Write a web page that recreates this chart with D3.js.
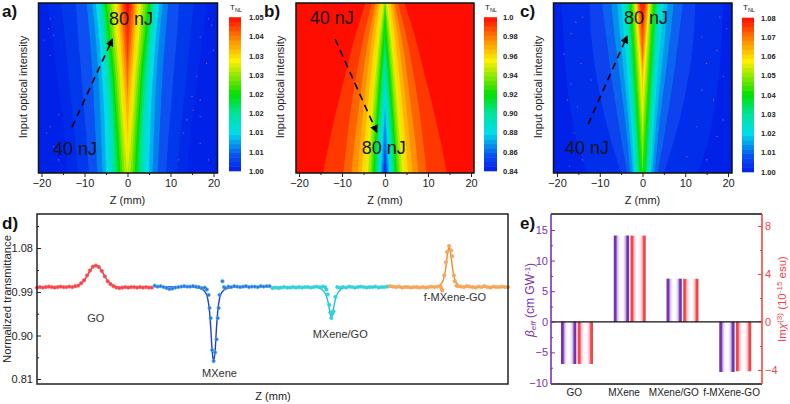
<!DOCTYPE html>
<html>
<head>
<meta charset="utf-8">
<style>
  html, body { margin: 0; background: #fff; }
  svg { display: block; }
  text { font-family: "Liberation Sans", Arial, sans-serif; }
</style>
<script src="https://cdn.jsdelivr.net/npm/d3@7"></script>
</head>
<body>
<svg id="chart" width="790" height="404"></svg>
<script>
// contour rows: input energy in nJ
const energies = [40, 48, 56, 64, 72, 80];
const zTicks = [-20, -10, 0, 10, 20];
const zMinor = [-15, -5, 5, 15];

// contour levels (fraction of the colour bar) and half width in mm at each energy
const levelsA = [0.02, 0.05, 0.10, 0.15, 0.20, 0.25, 0.30, 0.35, 0.40, 0.45, 0.50, 0.55, 0.60, 0.65, 0.70, 0.75, 0.80, 0.85, 0.90, 0.95, 1.00];
const widthsA = [
  [14, 14.5, 15.5, 16.5, 17.5, 18.5],
  [11.5, 12.2, 13, 13.8, 14.6, 15.5],
  [9, 9.5, 10.2, 10.8, 11.5, 12],
  [7, 7.4, 7.8, 8.2, 8.8, 9.5],
  [5.8, 6.1, 6.4, 6.8, 7.4, 8.2],
  [5, 5.2, 5.5, 6, 6.6, 7.4],
  [4.2, 4.4, 4.8, 5.3, 6, 6.8],
  [3.6, 3.8, 4.2, 4.8, 5.6, 6.3],
  [3.1, 3.3, 3.8, 4.4, 5.2, 5.9],
  [2.6, 2.9, 3.4, 4, 4.8, 5.6],
  [2.1, 2.5, 3, 3.6, 4.4, 5.3],
  [1.7, 2.1, 2.7, 3.2, 4, 4.8],
  [1.2, 1.7, 2.2, 2.8, 3.6, 4.2],
  [0.7, 1.3, 1.8, 2.4, 3.1, 3.7],
  [0, 0.8, 1.4, 1.9, 2.7, 3.2],
  [0, 0.2, 1, 1.5, 2.2, 2.6],
  [0, 0, 0.4, 1.1, 1.7, 2.2],
  [0, 0, 0, 0.6, 1.3, 1.8],
  [0, 0, 0, 0.2, 0.9, 1.5],
  [0, 0, 0, 0, 0.4, 1.1],
  [0, 0, 0, 0, 0, 0.5]
];

const levelsB = [0.95, 0.90, 0.85, 0.80, 0.75, 0.70, 0.65, 0.60, 0.55, 0.50, 0.45, 0.40, 0.35, 0.30, 0.25, 0.20, 0.15, 0.10, 0.05];
const widthsB = [
  [4.5, 7, 9, 11, 12.8, 14.4],
  [3, 5, 6.5, 7.8, 8.8, 9.7],
  [2.2, 3.8, 5, 6, 7, 7.8],
  [1.7, 3, 4, 4.9, 5.7, 6.4],
  [1.2, 2.3, 3.2, 4, 4.7, 5.4],
  [0.7, 1.7, 2.5, 3.3, 4, 4.6],
  [0.3, 1.3, 2.1, 2.8, 3.4, 4],
  [0, 1, 1.7, 2.4, 3, 3.5],
  [0, 0.7, 1.4, 2, 2.6, 3.1],
  [0, 0.4, 1.1, 1.7, 2.3, 2.7],
  [0, 0.1, 0.8, 1.4, 2, 2.4],
  [0, 0, 0.5, 1.1, 1.7, 2.1],
  [0, 0, 0.2, 0.8, 1.4, 1.8],
  [0, 0, 0, 0.5, 1.1, 1.5],
  [0, 0, 0, 0.2, 0.8, 1.3],
  [0, 0, 0, 0, 0.5, 1],
  [0, 0, 0, 0, 0.2, 0.75],
  [0, 0, 0, 0, 0, 0.5],
  [0, 0, 0, 0, 0, 0.3]
];

const levelsC = [0.03, 0.07, 0.12, 0.17, 0.22, 0.27, 0.32, 0.37, 0.42, 0.47, 0.52, 0.57, 0.62, 0.67, 0.72, 0.77, 0.82, 0.87, 0.92, 0.97];
const widthsC = [
  [13, 15.5, 17, 18, 18.5, 19],
  [5, 7.5, 9.5, 11, 12, 12.4],
  [3.6, 5, 6.3, 7.5, 8.5, 9.5],
  [2.9, 3.6, 4.5, 5.5, 6.5, 7.3],
  [2.3, 2.9, 3.6, 4.4, 5.2, 5.9],
  [1.9, 2.4, 3, 3.6, 4.3, 5],
  [1.6, 2, 2.6, 3.1, 3.7, 4.3],
  [1.3, 1.7, 2.2, 2.7, 3.2, 3.8],
  [1, 1.4, 1.9, 2.4, 2.9, 3.4],
  [0.7, 1.1, 1.6, 2.1, 2.6, 3.1],
  [0.3, 0.8, 1.3, 1.8, 2.3, 2.8],
  [0, 0.5, 1, 1.5, 2, 2.5],
  [0, 0.2, 0.7, 1.2, 1.7, 2.2],
  [0, 0, 0.4, 0.9, 1.4, 1.95],
  [0, 0, 0.1, 0.6, 1.1, 1.7],
  [0, 0, 0, 0.3, 0.9, 1.5],
  [0, 0, 0, 0.05, 0.7, 1.3],
  [0, 0, 0, 0, 0.5, 1.1],
  [0, 0, 0, 0, 0.2, 0.9],
  [0, 0, 0, 0, 0, 0.6]
];

// stray pixels in the blue part of the maps, [z, energy]
const specksA = [[-18, 76.3], [-18.4, 74], [-17.2, 72.4], [-19.5, 71.3], [-18, 67.7], [-16, 53.7], [-18, 50.9], [-18.8, 49.4], [-17.2, 46.3], [-16, 43.1], [18.8, 76.3], [19.6, 74.8], [16.9, 72], [20, 68.9], [18.4, 65.8], [16.1, 62.7], [15, 58], [16.9, 57.2], [15.3, 54.8], [13.8, 52.5], [16.9, 53.3], [13, 49.4], [16.9, 47], [11.9, 43.1], [18.8, 43.1]];
const specksC = [[-15.6, 75.5], [-16.7, 72.8], [-14, 76.7], [-18.3, 68], [-14.4, 65.8], [-16.7, 61], [-12, 61.9], [-17.5, 57.2], [-15.2, 55.6], [-16, 49.4], [-17.1, 41.6], [-14, 43.1], [18.1, 76.7], [19.7, 74], [13.9, 72], [17.4, 68.9], [15, 65.8], [18.9, 62.7], [13.9, 59.5], [16.6, 57.2], [18.9, 52.5], [12.7, 50.9], [17.4, 48.6], [10.4, 43.9], [15, 43.1]];

const barLabelsA = ["1.05", "1.04", "1.03", "1.03", "1.02", "1.02", "1.01", "1.01", "1.00"];
const barLabelsB = ["1.0", "0.98", "0.96", "0.94", "0.92", "0.90", "0.88", "0.86", "0.84"];
const barLabelsC = ["1.08", "1.07", "1.06", "1.05", "1.04", "1.03", "1.02", "1.01", "1.00"];

// panel d, scan position (mm) and normalized transmittance
const zGO = [-20, -19, -18, -17, -16, -15, -14, -13, -12, -11, -10, -9, -8, -7, -6, -5, -4, -3, -2, -1, 0, 1, 2, 3, 4, 5, 6, 7, 8, 9, 10, 11, 12, 13, 14, 15, 16, 17, 18, 19];
const tGO = [0.999, 1.000, 0.999, 1.000, 1.001, 1.000, 0.999, 1.000, 1.001, 1.000, 1.000, 1.001, 1.000, 1.002, 1.003, 1.008, 1.014, 1.024, 1.034, 1.042, 1.044, 1.041, 1.033, 1.022, 1.012, 1.006, 1.002, 0.999, 0.998, 0.999, 1.000, 0.999, 1.000, 1.000, 0.999, 1.000, 0.999, 1.000, 0.999, 0.999];
const zGOFit = [-20, -8, -6, -4, -2, -1, 0, 1, 2, 4, 6, 8, 19];
const tGOFit = [1.000, 1.000, 1.003, 1.013, 1.033, 1.041, 1.043, 1.041, 1.033, 1.013, 1.003, 1.000, 1.000];

const zMX = [-20, -19, -18, -17, -16, -15, -14, -13, -12, -11, -10, -9, -8, -7, -6, -5, -4, -3, -2.3, -1.7, -1.4, -1, -0.5, 0, 0.5, 1, 1.4, 1.7, 2, 3, 3.5, 4, 5, 6, 7, 8, 9, 10, 11, 12, 13, 14, 15, 16, 17, 18, 19];
const tMX = [1.003, 1.001, 1.002, 1.000, 0.998, 0.996, 0.997, 0.999, 1.000, 1.001, 1.002, 1.001, 1.001, 1.002, 1.001, 1.000, 0.998, 0.999, 0.995, 0.984, 0.957, 0.936, 0.870, 0.847, 0.865, 0.892, 0.936, 0.957, 0.984, 1.012, 1.000, 0.998, 1.001, 1.000, 1.002, 1.001, 1.000, 1.001, 1.002, 1.000, 1.001, 1.001, 1.000, 1.002, 1.001, 1.002, 1.002];
const zMXFit = [-20, -8, -5, -3.5, -2.5, -2, -1.5, -1, -0.5, 0, 0.5, 1, 1.5, 2, 2.5, 3.5, 5, 8, 19];
const tMXFit = [1.001, 1.000, 0.998, 0.994, 0.986, 0.976, 0.956, 0.918, 0.868, 0.847, 0.868, 0.918, 0.956, 0.976, 0.986, 0.994, 0.998, 1.000, 1.001];

const zMG = [-20, -19, -18, -17, -16, -15, -14, -13, -12, -11, -10, -9, -8, -7, -6, -5, -4, -3, -2.1, -1.7, -1.25, -0.7, -0.35, 0, 0.35, 0.7, 1.35, 2, 3, 4, 5, 6, 7, 8, 9, 10, 11, 12, 13, 14, 15, 16, 17, 18, 19];
const tMG = [0.998, 0.999, 0.998, 0.999, 1.000, 0.999, 0.999, 1.000, 0.999, 1.000, 0.999, 1.000, 1.000, 0.999, 1.000, 1.001, 1.000, 1.001, 1.000, 0.995, 0.985, 0.963, 0.948, 0.936, 0.945, 0.950, 0.980, 1.000, 0.999, 1.000, 0.999, 1.001, 1.000, 0.999, 1.000, 1.001, 1.000, 0.999, 1.000, 1.000, 1.001, 0.999, 1.000, 1.000, 1.001];
const zMGFit = [-20, -6, -4, -3, -2, -1.25, -0.7, 0, 0.7, 1.25, 2, 3, 4, 6, 19];
const tMGFit = [1.000, 1.000, 0.998, 0.994, 0.986, 0.972, 0.955, 0.937, 0.955, 0.972, 0.986, 0.994, 0.998, 1.000, 1.000];

const zFM = [-20, -19, -18, -17, -16, -15, -14, -13, -12, -11, -10, -9, -8, -7, -6, -5, -4, -3, -2.6, -2.3, -1.7, -1.1, -0.7, 0, 0.7, 1, 1.6, 1.9, 2.5, 3, 4, 5, 6, 7, 8, 9, 10, 11, 12, 13, 14, 15, 16, 17, 18, 19, 20];
const tFM = [1.002, 1.001, 1.000, 1.001, 0.999, 1.000, 1.000, 0.999, 1.000, 1.000, 0.999, 1.000, 0.999, 1.000, 1.001, 1.000, 1.001, 1.002, 0.997, 0.993, 1.024, 1.051, 1.072, 1.084, 1.075, 1.063, 1.024, 1.012, 1.003, 1.002, 1.001, 1.000, 1.002, 1.001, 1.000, 0.999, 1.001, 1.000, 1.002, 1.000, 0.999, 1.001, 1.000, 1.000, 1.001, 1.000, 1.000];
const zFMFit = [-20, -6, -4, -3, -2, -1.5, -1, -0.5, 0, 0.5, 1, 1.5, 2, 3, 4, 6, 20];
const tFMFit = [1.000, 1.000, 1.002, 1.005, 1.014, 1.026, 1.046, 1.070, 1.082, 1.070, 1.046, 1.026, 1.014, 1.005, 1.002, 1.000, 1.000];

const transTicks = [1.08, 0.99, 0.90, 0.81];
const transMinor = [1.125, 1.035, 0.945, 0.855];

// panel e
const samples = ["GO", "MXene", "MXene/GO", "f-MXene-GO"];
const betaEff = [-6.9, 14.1, 7.05, -8.2];
const imChi = [-3.5, 7.2, 3.6, -4.1];
const betaTicks = [15, 10, 5, 0, -5, -10];
const betaMinor = [12.5, 7.5, 2.5, -2.5, -7.5];
const chiTicks = [8, 4, 0, -4];
const chiMinor = [6, 2, -2];

const svg = d3.select("#chart");
const defs = svg.append("defs");

defs.append("filter").attr("id", "soft")
  .append("feGaussianBlur").attr("stdDeviation", 0.35);

// jet colours as in the reference colour bars
const jet = d3.scaleLinear()
  .domain([0, 0.1, 0.25, 0.38, 0.5, 0.62, 0.72, 0.85, 1])
  .range(["#0420e8", "#0850f0", "#00dcea", "#00e49a", "#00e000", "#8ee800", "#fff000", "#ff9000", "#ff0c00"]);

function smallLabel(sel) {
  return sel.attr("fill", "#222").attr("font-size", 11);
}

function frameAxis(g, scale, ticks, minor, orient) {
  const major = orient(scale).tickValues(ticks).tickSize(4).tickPadding(2).tickFormat(d3.format("d"));
  const small = orient(scale).tickValues(minor).tickSize(2).tickFormat("");
  g.append("g").call(small).call(a => a.select(".domain").remove());
  g.append("g").call(major).call(a => a.select(".domain").remove());
  g.selectAll("text").call(smallLabel);
  g.selectAll("line").attr("stroke", "#222");
}

function drawMap(p) {
  const x = d3.scaleLinear().domain([-20, 20]).range(p.zRange);
  const y = d3.scaleLinear().domain([40, 80]).range(p.eRange);
  const left = x.invert(p.box[0]);
  const right = x.invert(p.box[1]);
  const g = svg.append("g");
  const clipId = "clip" + p.name;

  defs.append("clipPath").attr("id", clipId)
    .append("rect")
    .attr("x", p.box[0]).attr("y", p.box[2])
    .attr("width", p.box[1] - p.box[0]).attr("height", p.box[3] - p.box[2]);

  const map = g.append("g").attr("clip-path", `url(#${clipId})`)
    .append("g").attr("filter", "url(#soft)");

  map.append("rect")
    .attr("x", x(left) - 2).attr("y", p.box[2] - 2)
    .attr("width", x(right) - x(left) + 4).attr("height", p.box[3] - p.box[2] + 4)
    .attr("fill", jet(p.background));

  const area = d3.area()
    .y((d, i) => y(energies[i]))
    .x0(d => x(-d))
    .x1(d => x(d))
    .curve(d3.curveMonotoneY);

  map.selectAll("path")
    .data(p.levels.map((level, i) => ({ level, widths: p.widths[i] })))
    .join("path")
      .attr("d", d => area(d.widths))
      .attr("fill", d => jet(d.level));

  g.append("g").selectAll("circle")
    .data(p.specks)
    .join("circle")
      .attr("cx", d => x(d[0]))
      .attr("cy", d => y(d[1]))
      .attr("r", 0.55)
      .attr("fill", "#f0686e");

  g.append("rect")
    .attr("x", p.box[0]).attr("y", p.box[2])
    .attr("width", p.box[1] - p.box[0]).attr("height", p.box[3] - p.box[2])
    .attr("fill", "none").attr("stroke", "#111").attr("stroke-width", 1.5);

  const axis = g.append("g").attr("transform", `translate(0,${p.box[3]})`);
  frameAxis(axis, x, zTicks, zMinor, d3.axisBottom);

  g.append("text").text("Z (mm)")
    .attr("x", x(0)).attr("y", 204)
    .attr("text-anchor", "middle").call(smallLabel);

  g.append("text").text("Input optical intensity")
    .attr("transform", `translate(${p.box[0] - 12},${(p.box[2] + p.box[3]) / 2 - 1}) rotate(-90)`)
    .attr("text-anchor", "middle").call(smallLabel);

  g.append("text").text(p.letter)
    .attr("x", p.letterX).attr("y", 17)
    .attr("font-size", 17).attr("font-weight", "bold").attr("fill", "#111");

  // energy annotations and dashed arrow
  p.notes.forEach(n => {
    g.append("text").text(n.text)
      .attr("x", x(n.z)).attr("y", y(n.e))
      .attr("text-anchor", "middle")
      .attr("font-size", 18).attr("fill", "#151515");
  });
  g.append("line")
    .attr("x1", x(p.arrow[0])).attr("y1", y(p.arrow[1]))
    .attr("x2", x(p.arrow[2])).attr("y2", y(p.arrow[3]))
    .attr("stroke", "#000").attr("stroke-width", 1.6)
    .attr("stroke-dasharray", "7 5")
    .attr("marker-end", "url(#head)");

  // colour bar
  const cells = d3.range(0, 1, 1 / 34);
  const barY = d3.scaleLinear().domain([0, 1]).range([p.bar[3], p.bar[2]]);
  g.append("g").selectAll("rect")
    .data(cells)
    .join("rect")
      .attr("x", p.bar[0])
      .attr("y", d => barY(d + 1 / 34) - 0.3)
      .attr("width", p.bar[1] - p.bar[0])
      .attr("height", (p.bar[3] - p.bar[2]) / 34 + 0.6)
      .attr("fill", d => jet(d + 1 / 68));

  const labelY = d3.scalePoint().domain(d3.range(p.barLabels.length)).range([p.bar[2], p.bar[3]]);
  g.append("g").selectAll("text")
    .data(p.barLabels)
    .join("text")
      .text(d => d)
      .attr("x", p.barLabelX)
      .attr("y", (d, i) => labelY(i) + 2.7)
      .attr("font-size", 7.5).attr("font-weight", "bold").attr("fill", "#222");

  const title = g.append("text")
    .attr("x", p.bar[0] + 1).attr("y", 10)
    .attr("font-size", 8).attr("fill", "#222");
  title.append("tspan").text("T");
  title.append("tspan").text("NL").attr("font-size", 5.5).attr("dy", 2);
}

defs.append("marker").attr("id", "head")
  .attr("viewBox", "0 0 8 8").attr("refX", 7).attr("refY", 4)
  .attr("markerWidth", 5).attr("markerHeight", 5)
  .attr("orient", "auto")
  .append("path").attr("d", "M0,0 L8,4 L0,8 Z").attr("fill", "#000");

drawMap({
  name: "A", letter: "a)", letterX: 2, background: 0,
  zRange: [41.5, 213.5], eRange: [173, 3], box: [38.5, 217.5, 3, 173],
  levels: levelsA, widths: widthsA, specks: specksA,
  bar: [229, 241, 17.5, 171], barLabels: barLabelsA, barLabelX: 249,
  notes: [{ text: "80 nJ", z: 0.8, e: 74.8 }, { text: "40 nJ", z: -12.2, e: 44.2 }],
  arrow: [-12.9, 50.8, -3.5, 71.5]
});
drawMap({
  name: "B", letter: "b)", letterX: 264, background: 1,
  zRange: [299, 471], eRange: [3, 173], box: [296, 474, 3, 173],
  levels: levelsB, widths: widthsB, specks: [],
  bar: [484, 497, 17.5, 171], barLabels: barLabelsB, barLabelX: 503,
  notes: [{ text: "40 nJ", z: -12.4, e: 44.9 }, { text: "80 nJ", z: -0.3, e: 75.5 }],
  arrow: [-11.6, 48.5, -1.9, 70.4]
});
drawMap({
  name: "C", letter: "c)", letterX: 520, background: 0,
  zRange: [557, 728], eRange: [173, 3], box: [553.5, 732, 3, 173],
  levels: levelsC, widths: widthsC, specks: specksC,
  bar: [742, 754, 18, 172], barLabels: barLabelsC, barLabelX: 761,
  notes: [{ text: "80 nJ", z: 0.8, e: 75 }, { text: "40 nJ", z: -13, e: 44.4 }],
  arrow: [-12.7, 51.5, -3.6, 72.2]
});

// panel d
const posX = d3.scaleLinear().domain([0, 160]).range([37, 508]);
const transY = d3.scaleLinear().domain([0.81, 0.99, 1.08]).range([379, 292, 248]);
const panelD = svg.append("g");

const fitLine = d3.line()
  .x(d => posX(d.z))
  .y(d => transY(d.t))
  .curve(d3.curveMonotoneX);

const scans = [
  { center: 20, z: zGO, t: tGO, zFit: zGOFit, tFit: tGOFit, line: "#f03030", fill: "#f4404a", ring: "#f86060" },
  { center: 60, z: zMX, t: tMX, zFit: zMXFit, tFit: tMXFit, line: "#1c3fd8", fill: "#2f70e0", ring: "#4ab0e4" },
  { center: 100, z: zMG, t: tMG, zFit: zMGFit, tFit: tMGFit, line: "#1cc6d0", fill: "#30d4dc", ring: "#40ccd8" },
  { center: 140, z: zFM, t: tFM, zFit: zFMFit, tFit: tFMFit, line: "#f08c30", fill: "#f6aa60", ring: "#f4a050" }
];

scans.forEach(s => {
  const fit = s.zFit.map((z, i) => ({ z: z + s.center, t: s.tFit[i] }));
  const pts = s.z.map((z, i) => ({ z: z + s.center, t: s.t[i] }));
  panelD.append("path")
    .attr("d", fitLine(fit))
    .attr("fill", "none").attr("stroke", s.line).attr("stroke-width", 1.4);
  panelD.append("g").selectAll("circle")
    .data(pts)
    .join("circle")
      .attr("cx", d => posX(d.z))
      .attr("cy", d => transY(d.t))
      .attr("r", 1.7)
      .attr("fill", s.fill)
      .attr("stroke", s.ring).attr("stroke-width", 0.7);
});

panelD.append("rect")
  .attr("x", 37).attr("y", 214)
  .attr("width", 471).attr("height", 170)
  .attr("fill", "none").attr("stroke", "#222").attr("stroke-width", 1.5);

const transAxis = panelD.append("g").attr("transform", "translate(37,0)");
transAxis.append("g")
  .call(d3.axisRight(transY).tickValues(transMinor).tickSize(2).tickFormat(""))
  .call(a => a.select(".domain").remove());
transAxis.append("g")
  .call(d3.axisRight(transY).tickValues(transTicks).tickSize(4).tickFormat(""))
  .call(a => a.select(".domain").remove());
transAxis.selectAll("line").attr("stroke", "#222");

panelD.append("g").selectAll("text")
  .data(transTicks)
  .join("text")
    .text(d3.format(".2f"))
    .attr("x", 33).attr("y", d => transY(d) + 4)
    .attr("text-anchor", "end").call(smallLabel);

panelD.append("text").text("Normalized transmittance")
  .attr("transform", "translate(11,299) rotate(-90)")
  .attr("text-anchor", "middle").call(smallLabel).attr("font-size", 11.3);
panelD.append("text").text("Z (mm)")
  .attr("x", 273).attr("y", 400)
  .attr("text-anchor", "middle").call(smallLabel);
panelD.append("text").text("d)")
  .attr("x", 2).attr("y", 229)
  .attr("font-size", 17).attr("font-weight", "bold").attr("fill", "#111");

const scanNotes = [
  { text: "GO", pos: 20, t: 0.927 },
  { text: "MXene", pos: 62, t: 0.815 },
  { text: "MXene/GO", pos: 103, t: 0.894 },
  { text: "f-MXene-GO", pos: 142, t: 0.971 }
];
panelD.append("g").selectAll("text")
  .data(scanNotes)
  .join("text")
    .text(d => d.text)
    .attr("x", d => posX(d.pos))
    .attr("y", d => transY(d.t))
    .attr("text-anchor", "middle")
    .attr("font-size", 11).attr("fill", "#333");

// panel e
const PURPLE = "#7a32b0";
const RED = "#f2474a";
const betaY = d3.scaleLinear().domain([-10, 15]).range([383, 230]);
const chiY = d3.scaleLinear().domain([-4, 8]).range([370, 226]);
const catX = d3.scaleBand().domain(samples).range([551, 762]).paddingInner(0);
const innerX = d3.scaleBand().domain(["beta", "chi"]).range([10, 42]).paddingInner(0.08);
const panelE = svg.append("g");

function barGradient(id, color, light) {
  const grad = defs.append("linearGradient").attr("id", id);
  const stops = [[0, color], [0.14, color], [0.24, light], [0.36, "#f6f2fb"], [0.5, "#fff"], [0.64, "#f6f2fb"], [0.76, light], [0.86, color], [1, color]];
  grad.selectAll("stop")
    .data(stops)
    .join("stop")
      .attr("offset", d => d[0])
      .attr("stop-color", d => d[1]);
}
barGradient("gradBeta", PURPLE, "#cdbde8");
barGradient("gradChi", RED, "#fbbcbc");

panelE.append("g").selectAll("rect")
  .data(samples)
  .join("rect")
    .attr("x", d => catX(d) + innerX("beta"))
    .attr("width", innerX.bandwidth())
    .attr("y", (d, i) => Math.min(betaY(betaEff[i]), betaY(0)))
    .attr("height", (d, i) => Math.abs(betaY(betaEff[i]) - betaY(0)))
    .attr("fill", "url(#gradBeta)");

panelE.append("g").selectAll("rect")
  .data(samples)
  .join("rect")
    .attr("x", d => catX(d) + innerX("chi"))
    .attr("width", innerX.bandwidth())
    .attr("y", (d, i) => Math.min(chiY(imChi[i]), chiY(0)))
    .attr("height", (d, i) => Math.abs(chiY(imChi[i]) - chiY(0)))
    .attr("fill", "url(#gradChi)");

[214, 384].forEach(yy => {
  panelE.append("line")
    .attr("x1", 551).attr("x2", 762).attr("y1", yy).attr("y2", yy)
    .attr("stroke", "#111").attr("stroke-width", 1.5);
});
panelE.append("line")
  .attr("x1", 551).attr("x2", 762).attr("y1", betaY(0)).attr("y2", betaY(0))
  .attr("stroke", "#111").attr("stroke-width", 1.2);
panelE.append("line")
  .attr("x1", 551).attr("x2", 551).attr("y1", 214).attr("y2", 384)
  .attr("stroke", PURPLE).attr("stroke-width", 1.6);
panelE.append("line")
  .attr("x1", 762).attr("x2", 762).attr("y1", 214).attr("y2", 384)
  .attr("stroke", RED).attr("stroke-width", 1.6);

function sideAxis(at, orient, scale, ticks, minor, color) {
  const g = panelE.append("g").attr("transform", `translate(${at},0)`);
  g.append("g")
    .call(orient(scale).tickValues(minor).tickSize(-2).tickFormat(""))
    .call(a => a.select(".domain").remove());
  g.append("g")
    .call(orient(scale).tickValues(ticks).tickSize(-4).tickPadding(3).tickFormat(d3.format("d")))
    .call(a => a.select(".domain").remove());
  g.selectAll("line").attr("stroke", color);
  g.selectAll("text").attr("fill", color).attr("font-size", 11);
}
sideAxis(551, d3.axisLeft, betaY, betaTicks, betaMinor, PURPLE);
sideAxis(762, d3.axisRight, chiY, chiTicks, chiMinor, RED);

const catLabelShift = [-2, -5, -8, -3];
panelE.append("g").selectAll("text")
  .data(samples)
  .join("text")
    .text(d => d)
    .attr("x", (d, i) => catX(d) + innerX("beta") + innerX.bandwidth() + catLabelShift[i])
    .attr("y", 396)
    .attr("text-anchor", "middle")
    .attr("font-size", 10).attr("fill", "#222");

panelE.append("text").text("e)")
  .attr("x", 520).attr("y", 229)
  .attr("font-size", 17).attr("font-weight", "bold").attr("fill", "#111");

const betaTitle = panelE.append("text")
  .attr("transform", "translate(534,300) rotate(-90)")
  .attr("text-anchor", "middle").attr("font-size", 12).attr("fill", PURPLE);
betaTitle.append("tspan").text("\u03b2").attr("font-style", "italic");
betaTitle.append("tspan").text("eff").attr("font-size", 8).attr("dy", 2).attr("font-style", "italic");
betaTitle.append("tspan").text(" (cm GW").attr("dy", -2);
betaTitle.append("tspan").text("-1").attr("font-size", 8).attr("dy", -4);
betaTitle.append("tspan").text(")").attr("dy", 4);

const chiTitle = panelE.append("text")
  .attr("transform", "translate(786,299) rotate(-90)")
  .attr("text-anchor", "middle").attr("font-size", 11.5).attr("fill", RED);
chiTitle.append("tspan").text("Im");
chiTitle.append("tspan").text("\u03c7").attr("font-style", "italic");
chiTitle.append("tspan").text("(3)").attr("font-size", 8).attr("dy", -4);
chiTitle.append("tspan").text(" (10").attr("dy", 4);
chiTitle.append("tspan").text("-15").attr("font-size", 8).attr("dy", -4);
chiTitle.append("tspan").text(" esu)").attr("dy", 4);
</script>
</body>
</html>
